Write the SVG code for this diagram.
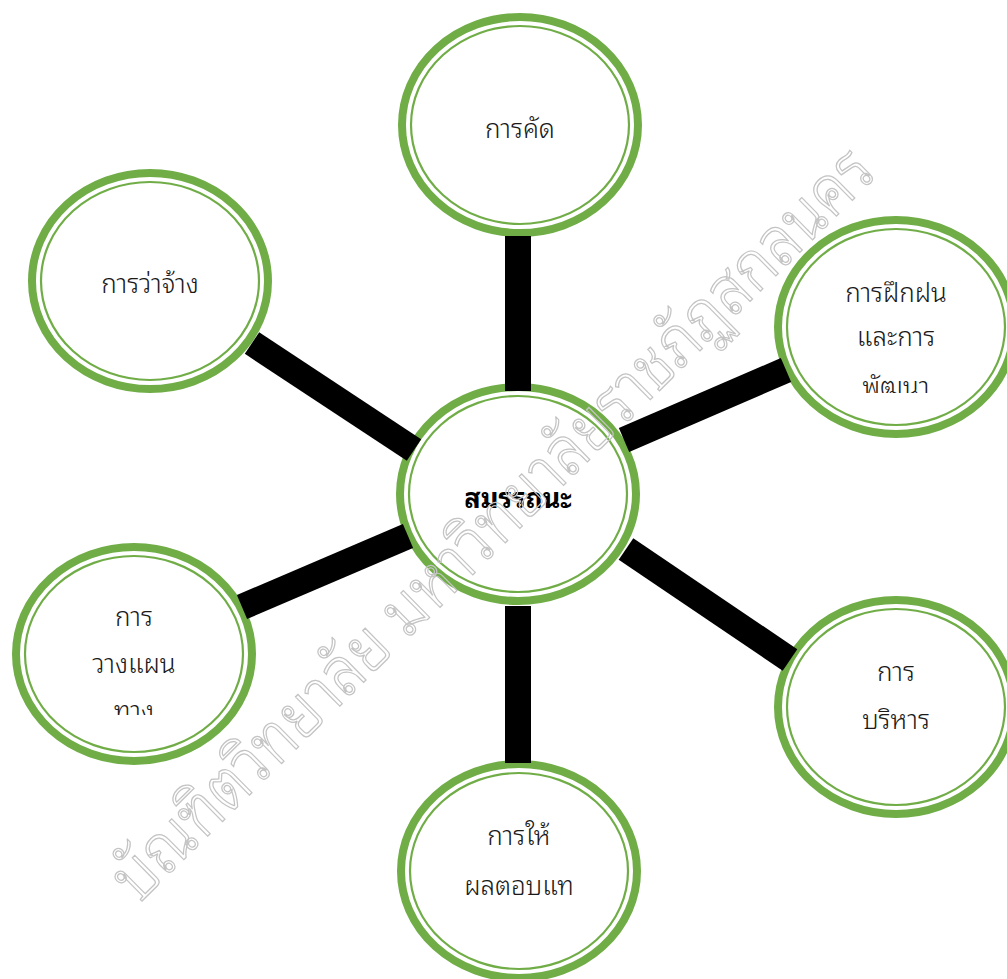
<svg xmlns="http://www.w3.org/2000/svg" width="1007" height="979" viewBox="0 0 1007 979">
<style>
.ring{fill:#fff;stroke:#70ad47;stroke-width:8}
.inner{fill:none;stroke:#70ad47;stroke-width:2.2}
.lbl{font-family:"Noto Sans Thai Looped","Loma","Garuda","Norasi","Tlwg Typo","Noto Sans Thai","DejaVu Sans",sans-serif;font-size:26px;font-weight:300;fill:#1a1a1a;text-anchor:middle}
.bold{font-weight:bold;fill:#000;font-size:27px}
.conn{stroke:#000;stroke-width:26;stroke-linecap:butt}
.wm{font-family:"Noto Sans Thai Looped","Loma","Garuda","Noto Sans Thai","DejaVu Sans",sans-serif;font-size:68px;font-weight:300;fill:none;stroke:#c4c4c4;stroke-width:1.3}
</style>
<defs>
<clipPath id="c1"><rect x="770" y="200" width="240" height="193"/></clipPath>
<clipPath id="c2"><rect x="0" y="540" width="260" height="175"/></clipPath>
</defs>
<g id="n-center">
<ellipse class="ring" cx="518" cy="494" rx="118" ry="107"/>
<ellipse class="inner" cx="518" cy="494" rx="109" ry="98"/>
<text class="lbl bold" x="518" y="508">สมรรถนะ</text>
</g>
<g id="n-top">
<ellipse class="ring" cx="520" cy="125" rx="118" ry="108"/>
<ellipse class="inner" cx="520" cy="125" rx="109" ry="99"/>
<text class="lbl" x="520" y="138">การคัด</text>
</g>
<g id="n-tl">
<ellipse class="ring" cx="150" cy="281" rx="118" ry="108"/>
<ellipse class="inner" cx="150" cy="281" rx="109" ry="99"/>
<text class="lbl" x="150" y="293">การว่าจ้าง</text>
</g>
<g id="n-tr">
<ellipse class="ring" cx="896" cy="327" rx="118" ry="107"/>
<ellipse class="inner" cx="896" cy="327" rx="109" ry="98"/>
<g clip-path="url(#c1)">
<text class="lbl" x="896" y="302">การฝึกฝน</text>
<text class="lbl" x="896" y="346">และการ</text>
<text class="lbl" x="896" y="396">พัฒนา</text>
</g>
</g>
<g id="n-br">
<ellipse class="ring" cx="896" cy="707" rx="118" ry="107"/>
<ellipse class="inner" cx="896" cy="707" rx="109" ry="98"/>
<text class="lbl" x="896" y="681">การ</text>
<text class="lbl" x="896" y="729">บริหาร</text>
</g>
<g id="n-bottom">
<ellipse class="ring" cx="519" cy="871" rx="118" ry="107"/>
<ellipse class="inner" cx="519" cy="871" rx="109" ry="98"/>
<text class="lbl" x="519" y="845">การให้</text>
<text class="lbl" x="519" y="895">ผลตอบแท</text>
</g>
<g id="n-bl">
<ellipse class="ring" cx="134" cy="654" rx="118" ry="107"/>
<ellipse class="inner" cx="134" cy="654" rx="109" ry="98"/>
<g clip-path="url(#c2)">
<text class="lbl" x="134" y="626">การ</text>
<text class="lbl" x="134" y="673">วางแผน</text>
<text class="lbl" x="134" y="720">ทาง</text>
</g>
</g>
<g id="connectors">
<line class="conn" x1="518" y1="236" x2="518" y2="391"/>
<line class="conn" x1="518" y1="606" x2="518" y2="763"/>
<line class="conn" x1="252" y1="343" x2="414" y2="450"/>
<line class="conn" x1="624" y1="440" x2="786" y2="370"/>
<line class="conn" x1="242" y1="607" x2="408" y2="536"/>
<line class="conn" x1="626" y1="549" x2="790" y2="660"/>
</g>
<text class="wm" transform="translate(138,905) rotate(-44.6)" textLength="1040" lengthAdjust="spacingAndGlyphs">บัณฑิตวิทยาลัย มหาวิทยาลัยราชภัฏสกลนคร</text>
</svg>
